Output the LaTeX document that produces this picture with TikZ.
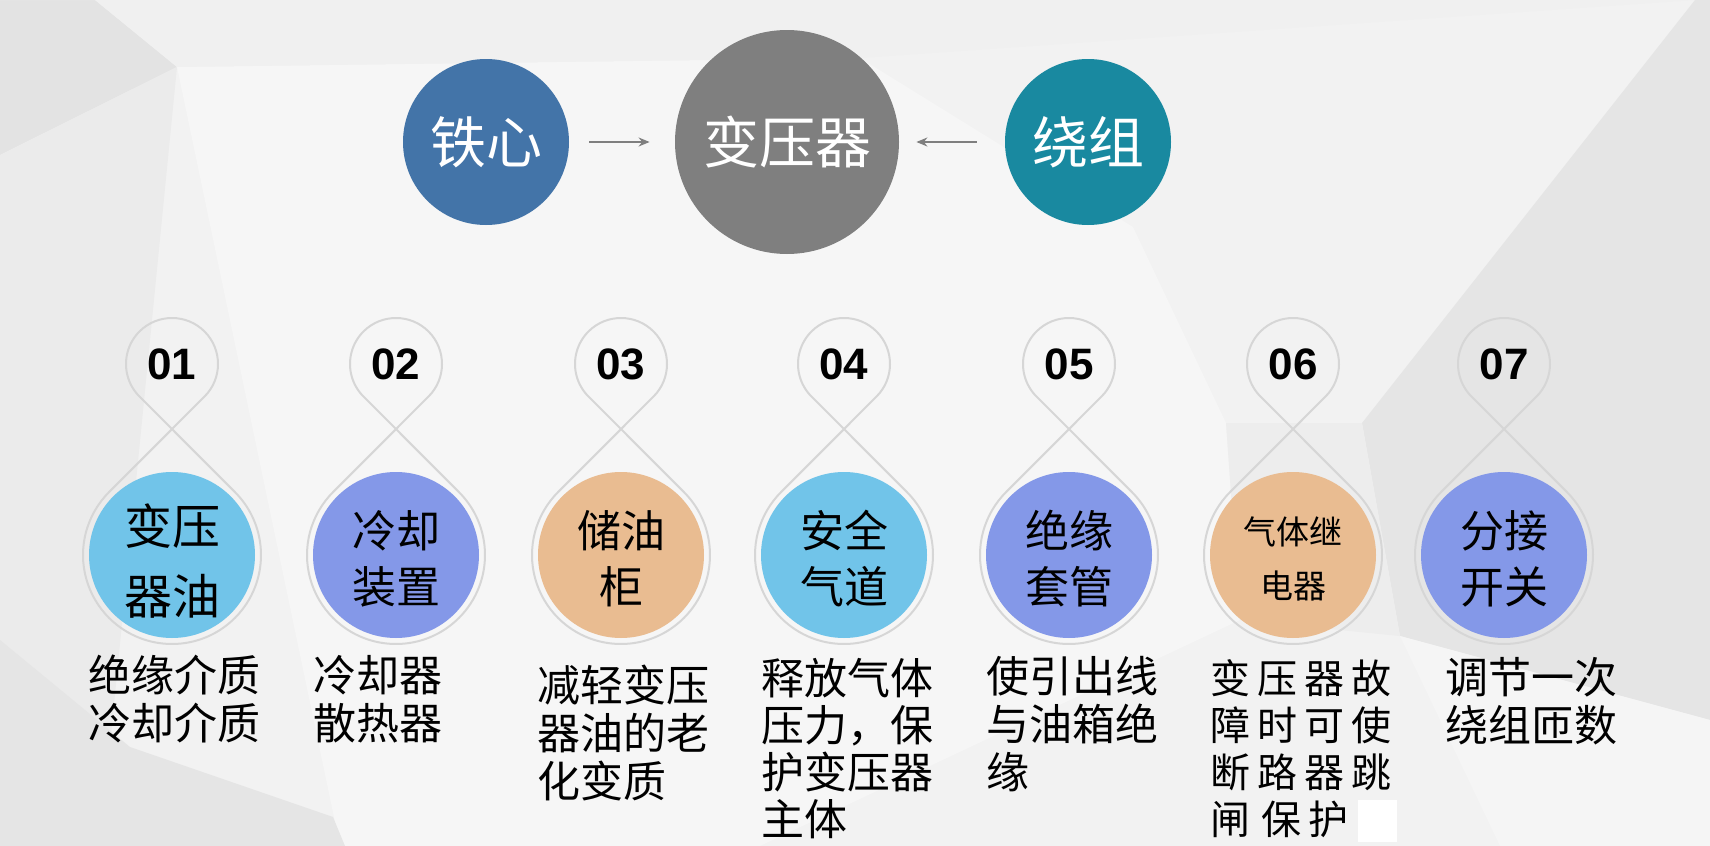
\documentclass[tikz,border=0pt]{standalone}
\usepackage{fontspec}
\setmainfont{Noto Sans CJK SC}
\newfontfamily\numfont{Liberation Sans}
\usetikzlibrary{arrows.meta}
\definecolor{bgbase}{RGB}{242,242,242}
\definecolor{ctie}{RGB}{67,116,168}
\definecolor{cbyq}{RGB}{127,127,127}
\definecolor{crz}{RGB}{25,137,160}
\definecolor{cA}{RGB}{113,196,233}
\definecolor{cB}{RGB}{132,152,232}
\definecolor{cC}{RGB}{233,188,145}
\definecolor{dropgray}{RGB}{214,214,214}
\newcommand\gp{\hspace{3.5pt}}
\begin{document}
\begin{tikzpicture}[x=0.5pt,y=-0.5pt,
  topcirc/.style={circle,inner sep=0pt,text=white,font=\fontsize{28pt}{30pt}\selectfont},
  toparrow/.style={draw=cbyq,line width=1pt,-{Stealth[length=5.5pt,width=4.5pt]}},
  dropline/.style={draw=dropgray,line width=1pt},
  numtext/.style={font=\numfont\bfseries\fontsize{22pt}{24pt}\selectfont},
  dot/.style={circle,inner sep=0pt,minimum size=83pt},
  desc/.style={anchor=base west,align=left,inner sep=0pt,font=\fontsize{21.5pt}{24pt}\selectfont}]
\useasboundingbox (0,0) rectangle (1710,846);
% background
\fill[bgbase] (0,0) rectangle (1710,846);
\fill[white!89!black] (0,0) -- (95,0) -- (177,67) -- (0,155) -- cycle;
\fill[white!92!black] (0,155) -- (177,67) -- (100,846) -- (0,846) -- cycle;
\fill[white!96.5!black] (177,67) -- (860,58) -- (1133,227) -- (1226,423) -- (1240,620) -- (760,846) -- (340,846) -- (177,67) -- cycle;
\fill[white!90!black] (0,640) -- (130,747) -- (333,817) -- (345,846) -- (0,846) -- cycle;
\fill[white!94!black] (0,0) -- (1695,0) -- (860,58) -- (177,67) -- (95,0) -- cycle;
\fill[white!90!black] (1695,0) -- (1710,0) -- (1710,720) -- (1400,636) -- (1362,423) -- cycle;
\fill[white!93!black] (1226,423) -- (1362,423) -- (1400,636) -- (1240,620) -- cycle;
\fill[white!96!black] (1400,636) -- (1710,720) -- (1710,846) -- (1500,846) -- cycle;
% top
\node[topcirc,fill=ctie,minimum size=83pt] (tie) at (486,142) {铁心};
\node[topcirc,fill=cbyq,minimum size=112pt] (byq) at (787,142) {变压器};
\node[topcirc,fill=crz,minimum size=83pt] (rz) at (1088,142) {绕组};
\draw[toparrow,shorten <=10pt,shorten >=12.5pt] (tie) -- (byq);
\draw[toparrow,shorten <=14pt,shorten >=8.5pt] (rz) -- (byq);
% drops
\foreach \n/\x/\num/\col in {1/172/01/cA,2/396/02/cB,3/621/03/cC,4/844/04/cA,5/1069/05/cB,6/1293/06/cC,7/1504/07/cB}{
  \draw[dropline] ([shift={(45.3:46)}]\x,364) arc[start angle=45.3,end angle=-225.3,radius=46]
     -- ([shift={(-45.3:89)}]\x,555) arc[start angle=-45.3,end angle=225.3,radius=89] -- cycle;
  \node[numtext] (num\n) at (\x,364) {\num};
  \node[dot,fill=\col] (dot\n) at (\x,555) {};
}
\node[align=center,font=\fontsize{24pt}{35pt}\selectfont] (t1) at ([yshift=-3pt]dot1) {变压\\器油};
\node[align=center,font=\fontsize{22pt}{28pt}\selectfont] (t2) at ([yshift=-2pt]dot2) {冷却\\装置};
\node[align=center,font=\fontsize{22pt}{28pt}\selectfont] (t3) at ([yshift=-2pt]dot3) {储油\\柜};
\node[align=center,font=\fontsize{22pt}{28pt}\selectfont] (t4) at ([yshift=-2pt]dot4) {安全\\气道};
\node[align=center,font=\fontsize{22pt}{28pt}\selectfont] (t5) at ([yshift=-2pt]dot5) {绝缘\\套管};
\node[align=center,font=\fontsize{16.5pt}{27pt}\selectfont] (t6) at ([yshift=-2pt]dot6) {气体继\\电器};
\node[align=center,font=\fontsize{22pt}{28pt}\selectfont] (t7) at ([yshift=-2pt]dot7) {分接\\开关};
% descriptions (anchor = baseline of the last line)
\node[desc] (d1) at (88,739) {绝缘介质\\冷却介质};
\node[desc] (d2) at (313,739) {冷却器\\散热器};
\node[desc] (d3) at (537,797) {减轻变压\\器油的老\\化变质};
\node[desc,font=\fontsize{21.5pt}{23.5pt}\selectfont] (d4) at (761,835) {释放气体\\压力，保\\护变压器\\主体};
\node[desc] (d5) at (986,788) {使引出线\\与油箱绝\\缘};
\node[desc,font=\fontsize{20pt}{23.5pt}\selectfont] (d6) at (1210,834) {变\gp 压\gp 器\gp 故\\障\gp 时\gp 可\gp 使\\断\gp 路\gp 器\gp 跳\\闸\hspace{5.5pt}保\gp 护};
\node[desc] (d7) at (1445,741) {调节一次\\绕组匝数};
\fill[white] (1358,800) rectangle (1397,842);
\end{tikzpicture}
\end{document}
